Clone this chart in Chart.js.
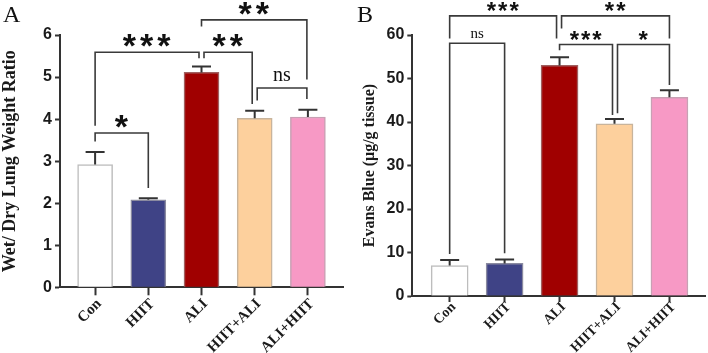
<!DOCTYPE html>
<html>
<head>
<meta charset="utf-8">
<script src="https://cdn.jsdelivr.net/npm/chart.js@4.4.1/dist/chart.umd.min.js"></script>
<style>
  html, body { margin: 0; padding: 0; background: #fff; }
  .panel { position: absolute; top: 0; width: 354px; height: 353px; }
</style>
</head>
<body>
<div class="panel" style="left:0"><canvas id="chartA" width="354" height="353"></canvas></div>
<div class="panel" style="left:354px"><canvas id="chartB" width="354" height="353"></canvas></div>
<script>
// groups on the x axis
const categories = ['Con', 'HIIT', 'ALI', 'HIIT+ALI', 'ALI+HIIT'];

// panel A: wet/dry ratio, mean and SEM
const ratioValues = [2.92, 2.08, 5.11, 4.02, 4.05];
const ratioErrors = [0.30, 0.04, 0.14, 0.18, 0.17];
const ratioTicks = [0, 1, 2, 3, 4, 5, 6];

// panel B: evans blue, mean and SEM
const evansValues = [7.0, 7.5, 53.0, 39.6, 45.7];
const evansErrors = [1.3, 0.9, 1.9, 1.1, 1.6];
const evansTicks = [0, 10, 20, 30, 40, 50, 60];

// significance brackets: [from, to, line value, from leg end, to leg end, label]
const ratioBrackets = [
  [0, 1, 3.67, 3.47, 2.36, '*'],
  [0, 2, 5.59, 3.84, 5.45, '***'],
  [2, 3, 5.59, 5.45, 4.36, '**'],
  [3, 4, 4.74, 4.44, 4.48, 'ns'],
  [2, 4, 6.36, 6.20, 4.94, '**']
];
const evansBrackets = [
  [0, 1, 58.1, 9.65, 9.8, 'ns'],
  [0, 2, 64.4, 59.2, 59.2, '***'],
  [2, 4, 64.4, 61.5, 59.2, '**'],
  [2, 3, 57.8, 56.5, 41.6, '***'],
  [3, 4, 57.8, 42.0, 48.5, '*']
];

const barColors = ['#ffffff', '#3f4386', '#a00000', '#fdd09d', '#f799c5'];
const barBorders = ['#bdbdbd', '#8a8aa0', '#a06060', '#c8b49c', '#c8a0b4'];

const INK = '#333333';

function drawCentered(ctx, text, cx, cy) {
  const m = ctx.measureText(text);
  const w = m.actualBoundingBoxLeft + m.actualBoundingBoxRight;
  const x = cx - w / 2 + m.actualBoundingBoxLeft;
  const y = cy + (m.actualBoundingBoxAscent - m.actualBoundingBoxDescent) / 2;
  ctx.fillText(text, x, y);
}

const extras = {
  id: 'extras',
  afterDatasetsDraw(chart, args, opts) {
    const ctx = chart.ctx;
    const xs = chart.scales.x, ys = chart.scales.y;
    ctx.save();
    // error bars
    ctx.strokeStyle = INK;
    ctx.lineWidth = 2;
    opts.values.forEach((v, i) => {
      const x = xs.getPixelForValue(i);
      const y0 = ys.getPixelForValue(v);
      const y1 = ys.getPixelForValue(v + opts.errors[i]);
      ctx.beginPath();
      ctx.moveTo(x, y0);
      ctx.lineTo(x, y1);
      ctx.moveTo(x - opts.cap, y1);
      ctx.lineTo(x + opts.cap, y1);
      ctx.stroke();
    });
    // brackets
    ctx.lineWidth = 1.6;
    ctx.strokeStyle = '#3a3a3a';
    ctx.fillStyle = '#111';
    opts.brackets.forEach((b, k) => {
      const nud = opts.nudges[k];
      const xa = xs.getPixelForValue(b[0]) + nud[0];
      const xb = xs.getPixelForValue(b[1]) + nud[1];
      const yl = ys.getPixelForValue(b[2]);
      ctx.beginPath();
      ctx.moveTo(xa, ys.getPixelForValue(b[3]));
      ctx.lineTo(xa, yl);
      ctx.lineTo(xb, yl);
      ctx.lineTo(xb, ys.getPixelForValue(b[4]));
      ctx.stroke();
      const cx = (xa + xb) / 2;
      if (b[5] === 'ns') {
        ctx.font = opts.nsFont;
        ctx.letterSpacing = '0px';
        drawCentered(ctx, 'ns', cx, yl - opts.nsLift);
      } else {
        ctx.font = opts.starFont;
        ctx.letterSpacing = opts.starGap;
        drawCentered(ctx, b[5], cx, yl - opts.starLift);
      }
    });
    ctx.letterSpacing = '0px';
    // panel letter
    ctx.font = '24px "Liberation Serif"';
    ctx.fillStyle = '#111';
    ctx.textBaseline = 'alphabetic';
    ctx.fillText(opts.letter, opts.letterX, opts.letterY);
    ctx.restore();
  }
};

function makeChart(id, cfg) {
  return new Chart(document.getElementById(id), {
    type: 'bar',
    data: {
      datasets: [{
        data: cfg.values.map((v, i) => ({ x: i, y: v })),
        backgroundColor: barColors,
        borderColor: barBorders,
        borderWidth: 1.5,
        barThickness: cfg.barWidth
      }]
    },
    options: {
      responsive: false,
      animation: false,
      devicePixelRatio: 1,
      layout: { padding: { top: 35, right: cfg.padRight, left: 0, bottom: 0 } },
      plugins: {
        legend: { display: false },
        tooltip: { enabled: false },
        extras: {
          values: cfg.values, errors: cfg.errors, brackets: cfg.brackets,
          nudges: cfg.nudges, cap: 9.5, letter: cfg.letter, letterX: 3, letterY: 22,
          starFont: cfg.starFont, starGap: cfg.starGap, starLift: cfg.starLift,
          nsFont: cfg.nsFont, nsLift: cfg.nsLift
        }
      },
      scales: {
        x: {
          type: 'linear',
          offset: false,
          min: -cfg.edge[0],
          max: categories.length - 1 + cfg.edge[1],
          z: 1,
          afterBuildTicks: (s) => { s.ticks = categories.map((c, i) => ({ value: i })); },
          afterFit: (s) => { s.height = cfg.xHeight; },
          border: { color: INK, width: 2 },
          grid: { offset: false, drawOnChartArea: false, tickLength: cfg.xTick, tickColor: INK, tickWidth: 2 },
          ticks: {
            minRotation: 45, maxRotation: 45, padding: cfg.xPad, labelOffset: 4,
            color: '#1a1a1a',
            font: { family: '"Liberation Serif"', weight: 'bold', size: cfg.xFont },
            callback: (v) => categories[v]
          }
        },
        y: {
          min: 0,
          max: cfg.ticks[cfg.ticks.length - 1],
          z: 1,
          afterBuildTicks: (s) => {
            const t = [];
            for (let v = 0; v <= s.max + 1e-9; v += cfg.minorStep) t.push({ value: +v.toFixed(4) });
            s.ticks = t;
          },
          afterFit: (s) => { s.width = cfg.yWidth; },
          border: { color: INK, width: 2 },
          grid: { drawOnChartArea: false, tickLength: 5, tickColor: INK, tickWidth: 2 },
          ticks: {
            padding: 3,
            color: '#1a1a1a',
            font: { family: '"Liberation Sans"', weight: 'bold', size: 16 },
            callback: (v) => cfg.ticks.includes(v) ? String(v) : ''
          },
          title: {
            display: true,
            text: cfg.title,
            color: '#1a1a1a',
            padding: { top: cfg.titlePad, bottom: 0 },
            font: { family: '"Liberation Serif"', weight: 'bold', size: cfg.titleSize }
          }
        }
      }
    },
    plugins: [extras]
  });
}

makeChart('chartA', {
  values: ratioValues, errors: ratioErrors, brackets: ratioBrackets,
  nudges: [[0, 0], [0, -2.5], [2.5, -2.5], [2.5, -1], [0, -1]],
  ticks: ratioTicks, minorStep: 0.5,
  title: 'Wet/ Dry Lung Weight Ratio', titleSize: 18, titlePad: 0,
  yWidth: 60, xHeight: 65.7, padRight: 11, edge: [0.66, 0.66], barWidth: 35,
  xTick: 8, xPad: 0, xFont: 15,
  letter: 'A', starFont: 'bold 34px "Liberation Sans"', starGap: '4px', starLift: 11.6,
  nsFont: '20px "Liberation Serif"', nsLift: 11.6
});

makeChart('chartB', {
  values: evansValues, errors: evansErrors, brackets: evansBrackets,
  nudges: [[0, 0], [0, -3], [2, 0], [0, -2], [3, 0]],
  ticks: evansTicks, minorStep: 10,
  title: 'Evans Blue (μg/g tissue)', titleSize: 16, titlePad: 6,
  yWidth: 58.3, xHeight: 57, padRight: 2.3, edge: [0.68, 0.66], barWidth: 37,
  xTick: 6, xPad: -3, xFont: 14,
  letter: 'B', starFont: 'bold 24px "Liberation Sans"', starGap: '2px', starLift: 9.5,
  nsFont: '15px "Liberation Serif"', nsLift: 9
});
</script>
</body>
</html>
